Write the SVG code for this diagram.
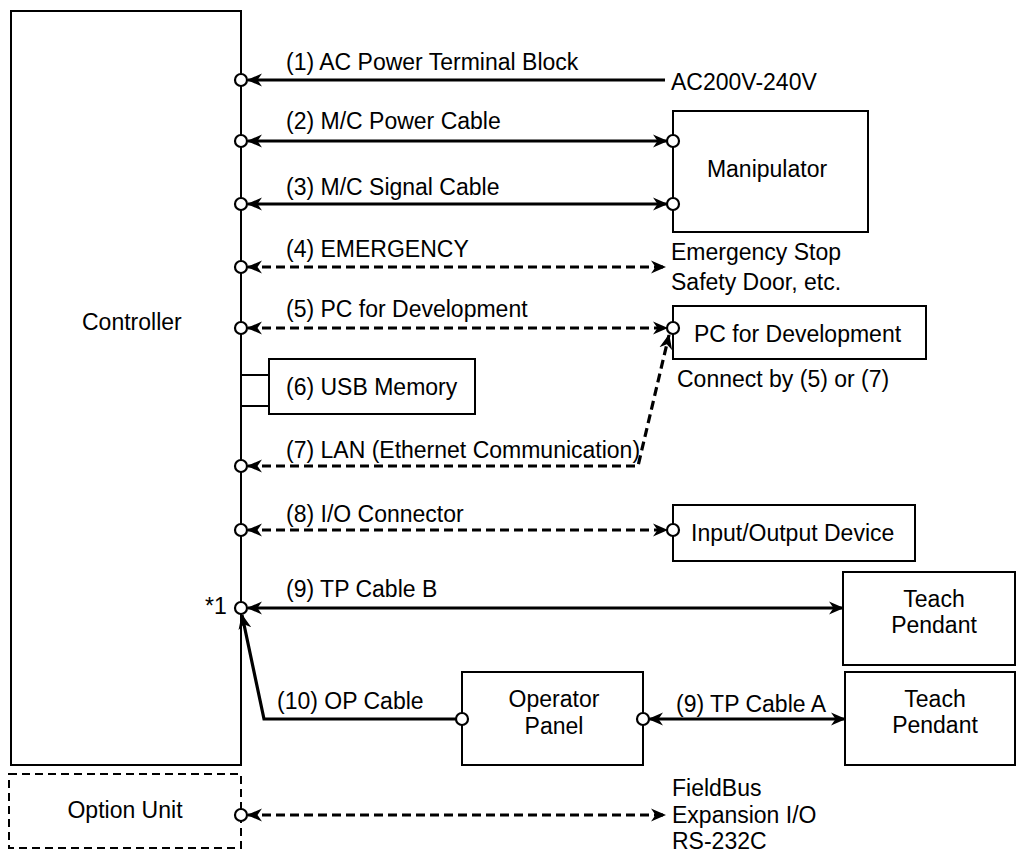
<svg xmlns="http://www.w3.org/2000/svg" width="1018" height="858" viewBox="0 0 1018 858">
<style>
text{font-family:"Liberation Sans",Arial,sans-serif;font-size:23px;fill:#000}
.box{fill:#fff;stroke:#000;stroke-width:2}
.dbox{fill:none;stroke:#000;stroke-width:2;stroke-dasharray:8 5}
.c{fill:none;stroke:#000;stroke-width:3.2}
.d{stroke-dasharray:9 5}
.pt{fill:#fff;stroke:#000;stroke-width:2.2}
.m{text-anchor:middle}
</style>
<defs>
<marker id="ah" viewBox="0 -7 15 14" refX="14" refY="0" markerWidth="15" markerHeight="14" markerUnits="userSpaceOnUse" orient="auto-start-reverse">
<path d="M0,-6.5 L15,0 L0,6.5 L4.5,0 Z" fill="#000"/>
</marker>
</defs>
<g id="controller"><rect class="box" x="11" y="11" width="230" height="754"/><text x="82" y="330">Controller</text></g>
<g id="option-unit"><rect class="dbox" x="9" y="774" width="232" height="74"/><text x="125" y="818" class="m">Option Unit</text></g>
<g id="manipulator"><rect class="box" x="673" y="111" width="195" height="121"/><text x="767" y="177" class="m">Manipulator</text></g>
<g id="emergency"><text x="671" y="260">Emergency Stop</text><text x="671" y="290">Safety Door, etc.</text></g>
<g id="ac-power"><text x="671" y="90">AC200V-240V</text></g>
<g id="pc-dev"><rect class="box" x="673" y="306" width="253" height="53"/><text x="694" y="342">PC for Development</text><text x="677" y="387">Connect by (5) or (7)</text></g>
<g id="usb-memory"><line x1="241" y1="375" x2="269" y2="375" stroke="#000" stroke-width="2"/><line x1="241" y1="406" x2="269" y2="406" stroke="#000" stroke-width="2"/><rect class="box" x="269" y="359" width="206" height="55"/><text x="286" y="395">(6) USB Memory</text></g>
<g id="io-device"><rect class="box" x="673" y="505" width="242" height="56"/><text x="691" y="541">Input/Output Device</text></g>
<g id="teach-pendant-b"><rect class="box" x="843" y="572" width="172" height="93"/><text x="934" y="607" class="m">Teach</text><text x="934" y="633" class="m">Pendant</text></g>
<g id="operator-panel"><rect class="box" x="462" y="672" width="181" height="93"/><text x="554" y="707" class="m">Operator</text><text x="554" y="734" class="m">Panel</text></g>
<g id="teach-pendant-a"><rect class="box" x="845" y="672" width="170" height="93"/><text x="935" y="707" class="m">Teach</text><text x="935" y="733" class="m">Pendant</text></g>
<g id="fieldbus"><text x="672" y="796">FieldBus</text><text x="672" y="823">Expansion I/O</text><text x="672" y="849">RS-232C</text></g>
<g id="connectors">
<path class="c" d="M248,80 H665" marker-start="url(#ah)"/>
<path class="c" d="M248,141 H667" marker-start="url(#ah)" marker-end="url(#ah)"/>
<path class="c" d="M248,204 H667" marker-start="url(#ah)" marker-end="url(#ah)"/>
<path class="c d" d="M248,267 H665" marker-start="url(#ah)" marker-end="url(#ah)"/>
<path class="c d" d="M248,328 H667" marker-start="url(#ah)" marker-end="url(#ah)"/>
<path class="c d" d="M248,466 H638 L669,335" marker-start="url(#ah)" marker-end="url(#ah)"/>
<path class="c d" d="M248,530 H667" marker-start="url(#ah)" marker-end="url(#ah)"/>
<path class="c" d="M248,608 H843" marker-start="url(#ah)" marker-end="url(#ah)"/>
<path class="c" d="M456,719 H264 L242,615" marker-end="url(#ah)"/>
<path class="c" d="M649,719 H845" marker-start="url(#ah)" marker-end="url(#ah)"/>
<path class="c d" d="M248,815 H665" marker-start="url(#ah)" marker-end="url(#ah)"/>
<circle class="pt" cx="241" cy="80" r="6"/>
<circle class="pt" cx="241" cy="141" r="6"/>
<circle class="pt" cx="241" cy="204" r="6"/>
<circle class="pt" cx="241" cy="267" r="6"/>
<circle class="pt" cx="241" cy="328" r="6"/>
<circle class="pt" cx="241" cy="466" r="6"/>
<circle class="pt" cx="241" cy="530" r="6"/>
<circle class="pt" cx="241" cy="608" r="6"/>
<circle class="pt" cx="241" cy="815" r="6"/>
<circle class="pt" cx="673" cy="141" r="6"/>
<circle class="pt" cx="673" cy="204" r="6"/>
<circle class="pt" cx="673" cy="328" r="6"/>
<circle class="pt" cx="673" cy="530" r="6"/>
<circle class="pt" cx="462" cy="719" r="6"/>
<circle class="pt" cx="643" cy="719" r="6"/>
<text x="286" y="70">(1) AC Power Terminal Block</text>
<text x="286" y="129">(2) M/C Power Cable</text>
<text x="286" y="195">(3) M/C Signal Cable</text>
<text x="286" y="257">(4) EMERGENCY</text>
<text x="286" y="317">(5) PC for Development</text>
<text x="286" y="458">(7) LAN (Ethernet Communication)</text>
<text x="286" y="522">(8) I/O Connector</text>
<text x="286" y="597">(9) TP Cable B</text>
<text x="205" y="614">*1</text>
<text x="277" y="709">(10) OP Cable</text>
<text x="676" y="712">(9) TP Cable A</text>
</g>
</svg>
